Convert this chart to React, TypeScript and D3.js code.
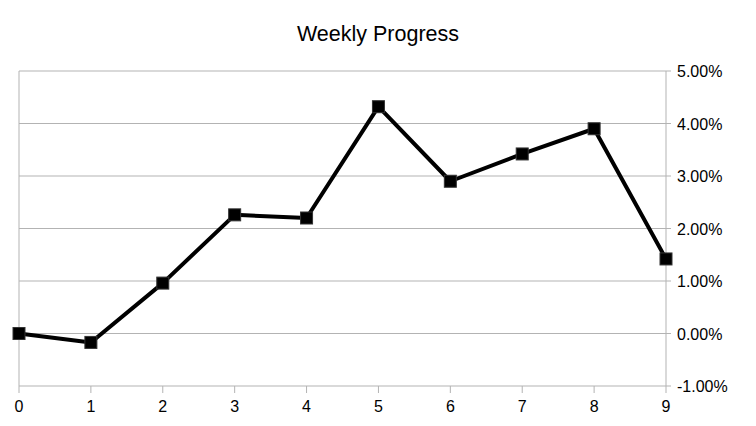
import React from 'react';
import * as d3 from 'd3';

const weeks = [0, 1, 2, 3, 4, 5, 6, 7, 8, 9];
const progress = [0.0, -0.0017, 0.0096, 0.0226, 0.022, 0.0432, 0.029, 0.0342, 0.039, 0.0142];
const yTicks = [-0.01, 0, 0.01, 0.02, 0.03, 0.04, 0.05];

const W = 756;
const H = 426;
const margin = { top: 71, right: 90, bottom: 40, left: 19 };

const App: React.FC = () => {
    const x = d3.scaleLinear().domain([0, 9]).range([margin.left, W - margin.right]);
    const y = d3.scaleLinear().domain([-0.01, 0.05]).range([H - margin.bottom, margin.top]);
    const line = d3.line<number>()
        .x((_, i) => x(weeks[i]))
        .y(d => y(d));
    // plain hyphen for negatives, like the original
    const fmt = (v: number) => d3.format('.2%')(v).replace('\u2212', '-');
    const font = '"Liberation Sans", Arial, sans-serif';

    return (
        <svg width={W} height={H} style={{ position: 'absolute', left: 0, top: 0, background: '#fff' }}>
            <text x={W / 2} y={41} textAnchor="middle" fontFamily={font} fontSize={21.5}>Weekly Progress</text>
            {yTicks.map(t => (
                <g key={t}>
                    <line x1={x(0)} x2={x(9) + 5} y1={y(t)} y2={y(t)} stroke="#b3b3b3" strokeWidth={1} />
                    <text x={x(9) + 11} y={y(t) + 6} fontFamily={font} fontSize={16}>{fmt(t)}</text>
                </g>
            ))}
            <line x1={x(0)} x2={x(0)} y1={y(0.05)} y2={y(-0.01)} stroke="#b3b3b3" />
            <line x1={x(9)} x2={x(9)} y1={y(0.05)} y2={y(-0.01)} stroke="#b3b3b3" />
            {weeks.map(w => (
                <g key={w}>
                    <line x1={x(w)} x2={x(w)} y1={y(-0.01)} y2={y(-0.01) + 7} stroke="#b3b3b3" />
                    <text x={x(w)} y={y(-0.01) + 26} textAnchor="middle" fontFamily={font} fontSize={16}>{w}</text>
                </g>
            ))}
            <path d={line(progress) || ''} fill="none" stroke="#000" strokeWidth={4} strokeLinejoin="round" />
            {progress.map((v, i) => (
                <rect key={i} x={x(weeks[i]) - 6} y={y(v) - 6} width={12} height={12} fill="#000" stroke="#333" strokeWidth={1} />
            ))}
        </svg>
    );
};

export default App;
